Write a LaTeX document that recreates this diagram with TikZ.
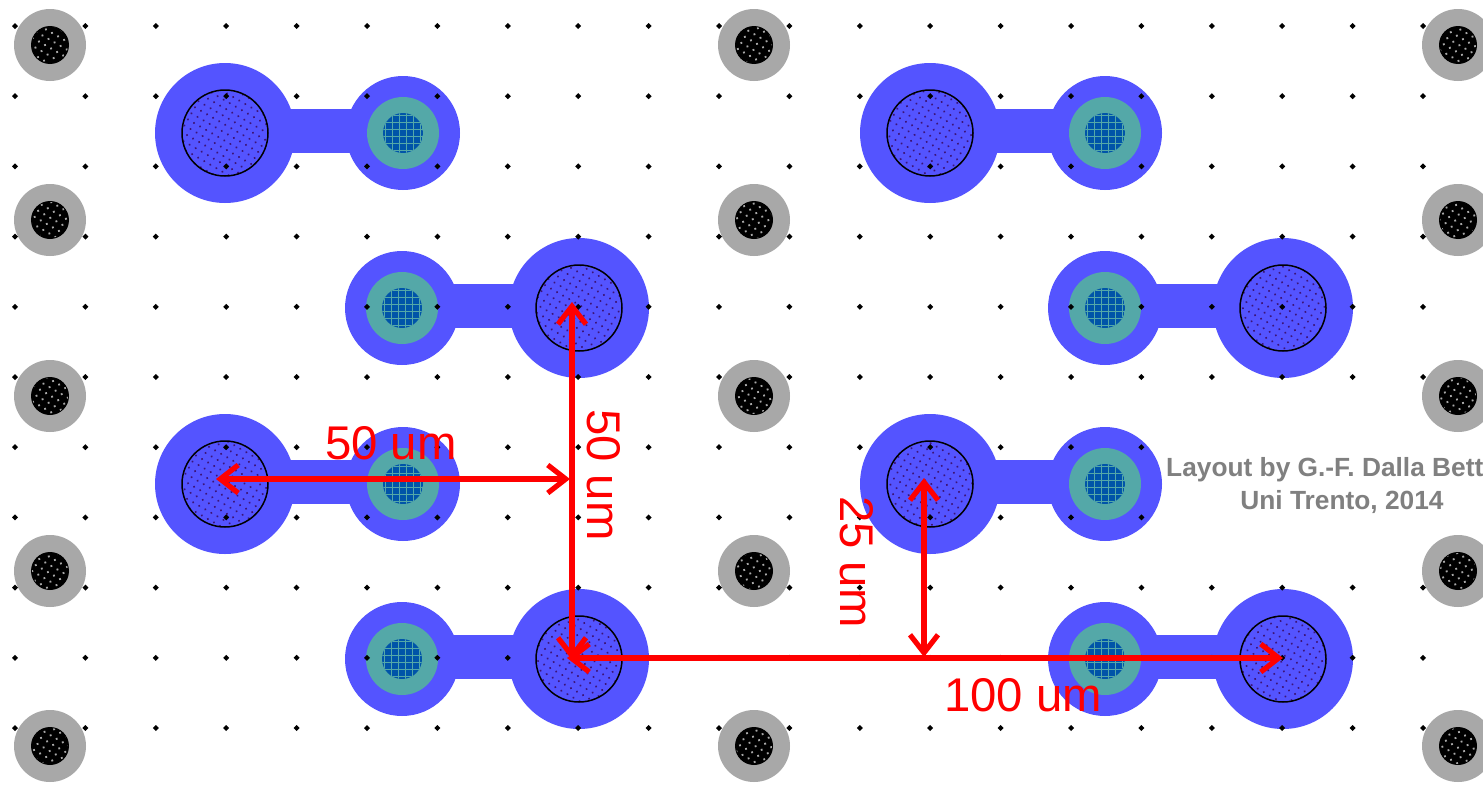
\documentclass[tikz,border=0pt]{standalone}
\usepackage{fontspec}
\setmainfont{Liberation Sans}
\usetikzlibrary{arrows.meta,patterns.meta}

\begin{document}
\begin{tikzpicture}[x=1pt,y=-1pt,
  pad/.style={fill=padblue},
  bump/.style={pattern={Dots[radius=1.15pt,distance=7pt,angle=60]},pattern color=hatchpurple,draw=black,line width=1.5pt},
  via/.style={fill=viateal},
  ring/.style={fill=ringgray},
  core/.style={fill=black},
  pin/.style={fill=black},
  dim/.style={draw=dimred,line width=5.2pt,{Straight Barb[length=18pt,width=28pt,line width=5.2pt]}-{Straight Barb[length=18pt,width=28pt,line width=5.2pt]}},
  dimtext/.style={text=dimred,font=\fontsize{47.3}{50}\selectfont,inner sep=0pt},
  credit/.style={text=creditgray,font=\fontsize{26.3}{30}\selectfont\bfseries,inner sep=0pt}]
\definecolor{padblue}{RGB}{84,84,255}
\definecolor{hatchpurple}{RGB}{60,20,120}
\definecolor{viateal}{RGB}{84,168,168}
\definecolor{gridblue}{RGB}{0,84,168}
\definecolor{ringgray}{RGB}{168,168,168}
\definecolor{dimred}{RGB}{255,0,0}
\definecolor{creditgray}{RGB}{128,128,128}
\useasboundingbox (0,0) rectangle (1483,795);
\fill[white] (0,0) rectangle (1483,795);

% columns of read-out electrodes
\foreach \x in {50,754,1458} {
  \foreach \y in {45,220,396,571,746} {
    \fill[ring] (\x,\y) circle (36);
    \fill[core] (\x,\y) circle (19);
    \fill[pattern={Dots[radius=1.3pt,distance=7pt,angle=60]},pattern color=ringgray] (\x,\y) circle (18);
  }
}

% straps, big pad x, small pad x, row y
\foreach \xa/\xb/\y in {225/403/133, 579/402/308, 225/403/484, 579/402/659,
                        930/1105/133, 1283/1105/308, 930/1105/484, 1283/1105/659} {
  \fill[pad] (\xa,\y-24) rectangle (\xb,\y+20);
  \fill[pad] (\xa,\y) circle (70);
  \fill[pad] (\xb,\y) circle (57);
  \draw[bump] (\xa,\y) circle (43);
  \fill[via] (\xb,\y) circle (36);
  \begin{scope}
    \clip (\xb,\y) circle (20);
    \fill[gridblue] (\xb-20,\y-20) rectangle (\xb+20,\y+20);
    \foreach \k in {-3,...,3} {
      \draw[viateal,line width=1.8pt] (\xb+\k*7-3.5,\y-20) -- (\xb+\k*7-3.5,\y+20);
      \draw[viateal,line width=1.8pt] (\xb-20,\y+\k*7-3.5) -- (\xb+20,\y+\k*7-3.5);
    }
  \end{scope}
}

% small dots
\foreach \i in {0,...,20} {
  \foreach \j in {0,...,10} {
    \fill[pin] (15+\i*70.4-3,26+\j*70.2) -- ++(3,-3) -- ++(3,3) -- ++(-3,3) -- cycle;
  }
}

\fill[white] (1164,438) rectangle (1483,526);
\node[credit,anchor=west] (creditone) at (1166,470) {Layout by G.-F. Dalla Bett};
\node[credit] (credittwo) at (1342,502) {Uni Trento, 2014};

\coordinate (lefta) at (216,479);
\coordinate (leftb) at (570,479);
\coordinate (upa) at (572,302);
\coordinate (upb) at (572,660);
\coordinate (downa) at (924,478);
\coordinate (downb) at (924,657);
\coordinate (longa) at (567,658);
\coordinate (longb) at (1283,658);

\draw[dim] (lefta) -- (leftb);
\draw[dim] (upa) -- (upb);
\draw[dim] (downa) -- (downb);
\draw[dim] (longa) -- (longb);

\node[dimtext] (widthlabel) at (391,443) {50 um};
\node[dimtext,rotate=-90] (heightlabel) at (604,475) {50 um};
\node[dimtext,rotate=-90] (offsetlabel) at (857,562) {25 um};
\node[dimtext] (pitchlabel) at (1023,695) {100 um};

\end{tikzpicture}
\end{document}
